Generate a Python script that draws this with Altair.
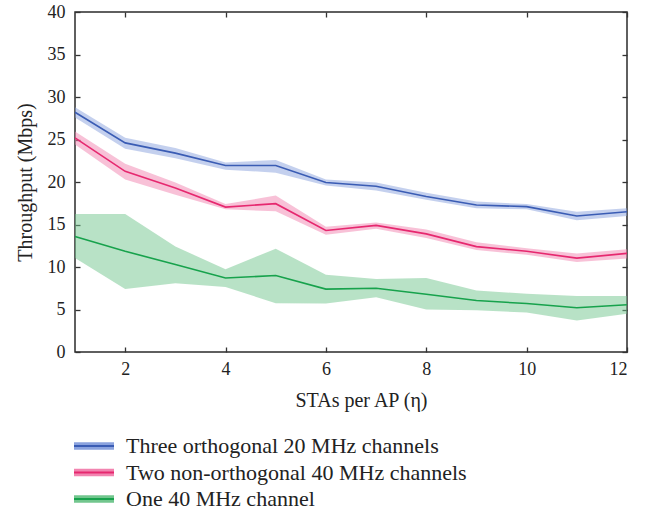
import altair as alt
import pandas as pd

# STAs per AP
stas = list(range(1, 13))

series_names = [
    "Three orthogonal 20 MHz channels",
    "Two non-orthogonal 40 MHz channels",
    "One 40 MHz channel",
]

# Mean throughput (Mbps) and the lower / upper edge of each shaded band
three_mean = [28.2, 24.6, 23.4, 21.95, 21.95, 19.95, 19.5, 18.3, 17.3, 17.1, 16.0, 16.5]
three_lo = [27.6, 23.9, 22.8, 21.45, 21.1, 19.6, 19.0, 17.9, 16.9, 16.8, 15.5, 16.0]
three_hi = [28.8, 25.2, 24.0, 22.3, 22.6, 20.3, 19.95, 18.75, 17.7, 17.4, 16.5, 16.9]

two_mean = [25.2, 21.25, 19.3, 17.05, 17.45, 14.3, 14.9, 13.9, 12.4, 11.85, 11.05, 11.6]
two_lo = [24.4, 20.3, 18.5, 16.8, 16.55, 13.8, 14.5, 13.4, 12.0, 11.45, 10.6, 11.0]
two_hi = [25.95, 22.15, 19.95, 17.4, 18.4, 14.75, 15.25, 14.4, 12.9, 12.2, 11.6, 12.1]

one_mean = [13.6, 11.85, 10.3, 8.7, 9.0, 7.4, 7.5, 6.8, 6.05, 5.7, 5.2, 5.55]
one_lo = [11.05, 7.4, 8.1, 7.65, 5.75, 5.7, 6.45, 5.0, 4.9, 4.65, 3.7, 4.5]
one_hi = [16.25, 16.25, 12.4, 9.75, 12.15, 9.1, 8.6, 8.7, 7.25, 6.85, 6.6, 6.6]

x_ticks = [2, 4, 6, 8, 10, 12]
y_ticks = [0, 5, 10, 15, 20, 25, 30, 35, 40]

line_colors = ["#3a5cb4", "#e6286f", "#17a24c"]
band_colors = ["#8aa2de", "#f284b0", "#72c68e"]

rows = []
for name, mean, lo, hi in [
    (series_names[0], three_mean, three_lo, three_hi),
    (series_names[1], two_mean, two_lo, two_hi),
    (series_names[2], one_mean, one_lo, one_hi),
]:
    for x, m, l, h in zip(stas, mean, lo, hi):
        rows.append({"eta": x, "series": name, "band": name, "mean": m, "lo": l, "hi": h})
df = pd.DataFrame(rows)

W, H = 552, 340
FONT = "Liberation Serif"
INK = "#222222"

x_scale = alt.Scale(domain=[1, 12], nice=False, zero=False)
y_scale = alt.Scale(domain=[0, 40], nice=False)

# inward-pointing tick marks drawn by extra axes moved onto the opposite edge
tick_axis = dict(labels=False, domain=False, grid=False, ticks=True,
                 tickSize=5, tickWidth=1.3, tickColor="#333333", title=None)

legend_common = dict(
    orient="none", legendX=8, legendY=423, title=None, direction="vertical",
    symbolSize=64, labelFont=FONT, labelFontSize=22, labelColor=INK,
    labelOffset=21, rowPadding=4.5, padding=0, labelLimit=400,
)

base = alt.Chart(df)

# shaded spread of each configuration; its legend draws the wide pale swatch
bands = base.mark_area(fillOpacity=0.5).encode(
    x=alt.X("eta:Q", scale=x_scale, axis=alt.Axis(
        orient="bottom", values=x_ticks, ticks=False, domain=False, grid=False,
        labelFont=FONT, labelFontSize=18, labelColor=INK, labelPadding=8,
        title="STAs per AP (η)", titleFont=FONT, titleFontSize=20,
        titleFontWeight="normal", titleColor=INK, titlePadding=12,
        titleX=W / 2 + 10)),
    y=alt.Y("lo:Q", scale=y_scale, axis=alt.Axis(
        orient="left", values=y_ticks, ticks=False, domain=False, grid=False,
        labelFont=FONT, labelFontSize=18, labelColor=INK, labelPadding=10,
        title="Throughput (Mbps)", titleFont=FONT, titleFontSize=20,
        titleFontWeight="normal", titleColor=INK, titlePadding=12)),
    y2="hi:Q",
    fill=alt.Fill("band:N", sort=series_names,
                  scale=alt.Scale(range=band_colors),
                  legend=alt.Legend(symbolType="M-5,-0.95L5,-0.95L5,0.95L-5,0.95Z",
                                    symbolStrokeWidth=0, symbolOpacity=1,
                                    **legend_common)),
)

# mean curves; their legend overlays the thin dark stroke on the swatch
lines = base.mark_line(strokeWidth=1.6).encode(
    x=alt.X("eta:Q", scale=x_scale,
            axis=alt.Axis(orient="top", offset=-H, values=x_ticks, **tick_axis)),
    y=alt.Y("mean:Q", scale=y_scale,
            axis=alt.Axis(orient="right", offset=-W, values=y_ticks, **tick_axis)),
    stroke=alt.Stroke("series:N", sort=series_names,
                      scale=alt.Scale(range=line_colors),
                      legend=alt.Legend(symbolType="M-5,0L5,0", symbolStrokeWidth=2,
                                        labelOpacity=0, **legend_common)),
)

mirror = base.mark_line(opacity=0).encode(
    x=alt.X("eta:Q", scale=x_scale,
            axis=alt.Axis(orient="bottom", offset=-H, values=x_ticks, **tick_axis)),
    y=alt.Y("mean:Q", scale=y_scale,
            axis=alt.Axis(orient="left", offset=-W, values=y_ticks, **tick_axis)),
    detail="series:N",
)

chart = (
    alt.layer(bands, lines, mirror)
    .resolve_axis(x="independent", y="independent")
    .properties(
        width=W, height=H,
        autosize=alt.AutoSizeParams(type="none"),
        padding={"left": 75, "top": 12, "right": 29, "bottom": 159},
        background="white",
    )
    .configure_view(stroke="#2b2b2b", strokeWidth=1.5)
    .configure_legend(labelFont=FONT)
    .configure_text(font=FONT)
)

chart.save("out.html", embed_options={"renderer": "svg", "actions": False})
